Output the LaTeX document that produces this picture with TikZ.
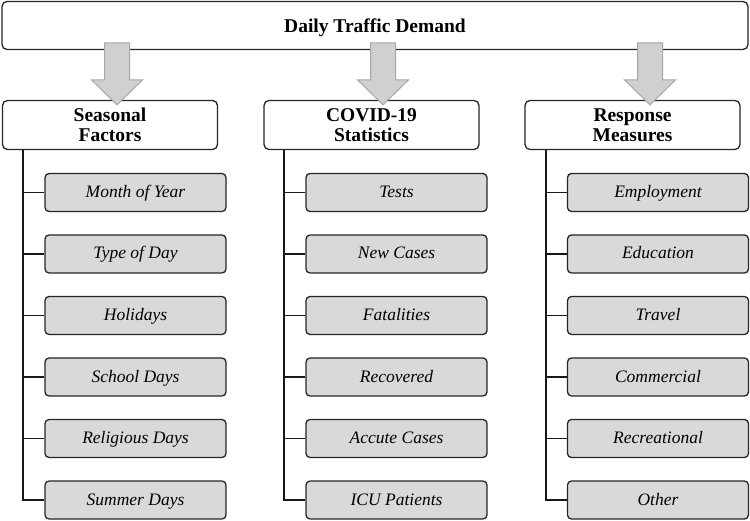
\documentclass[tikz,border=0pt]{standalone}
\usepackage{fontspec}
\setmainfont{Liberation Serif}
\usetikzlibrary{positioning, calc}
\definecolor{cItem}{HTML}{D9D9D9}
\definecolor{cArr}{HTML}{D0D0D0}
\definecolor{cArrLine}{HTML}{A6A6A6}

\begin{document}
\begin{tikzpicture}[
  x=1pt, y=-1pt,
  box/.style={rounded corners=5pt, draw=black!85, line width=1.3pt, fill=white, inner sep=0pt},
  top/.style={box, minimum width=746pt, minimum height=48pt, text height=15pt, text depth=0pt, font=\fontsize{19.5}{22}\selectfont\bfseries},
  cat/.style={box, align=center, minimum width=215pt, minimum height=49pt, font=\fontsize{19.5}{19.5}\selectfont\bfseries},
  item/.style={box, rounded corners=4pt, fill=cItem, minimum width=181pt, minimum height=38pt, text height=10pt, text depth=0pt, font=\fontsize{17.5}{20}\selectfont\itshape},
  trunk/.style={line width=1.5pt, draw=black!90},
  fat/.style={fill=cArr, draw=cArrLine, line width=1pt, line join=miter},
]
\useasboundingbox (0,0) rectangle (750,521);

% header
\node[top] (dtd) at (375,25.5) {Daily Traffic Demand};

% the three groups
\node[cat] (sf) at (110,125) {Seasonal\\Factors};
\node[cat] (cs) at (371.5,125) {COVID-19\\Statistics};
\node[cat] (rm) at (632.5,125) {Response\\Measures};

% column 1 seasonal factors
\node[item] (sf1) at (135.5,192.5) {Month of Year};
\node[item, below=22.2pt of sf1] (sf2) {Type of Day};
\node[item, below=22.2pt of sf2] (sf3) {Holidays};
\node[item, below=22.2pt of sf3] (sf4) {School Days};
\node[item, below=22.2pt of sf4] (sf5) {Religious Days};
\node[item, below=22.2pt of sf5] (sf6) {Summer Days};

% column 2 covid statistics
\node[item] (cs1) at (396.5,192.5) {Tests};
\node[item, below=22.2pt of cs1] (cs2) {New Cases};
\node[item, below=22.2pt of cs2] (cs3) {Fatalities};
\node[item, below=22.2pt of cs3] (cs4) {Recovered};
\node[item, below=22.2pt of cs4] (cs5) {Accute Cases};
\node[item, below=22.2pt of cs5] (cs6) {ICU Patients};

% column 3 response measures
\node[item] (rm1) at (658,192.5) {Employment};
\node[item, below=22.2pt of rm1] (rm2) {Education};
\node[item, below=22.2pt of rm2] (rm3) {Travel};
\node[item, below=22.2pt of rm3] (rm4) {Commercial};
\node[item, below=22.2pt of rm4] (rm5) {Recreational};
\node[item, below=22.2pt of rm5] (rm6) {Other};

% trunks and branches
\coordinate (sft) at (23,0);
\coordinate (cst) at (284,0);
\coordinate (rmt) at (546,0);
\draw[trunk] (sf.south -| sft) |- (sf6.west);
\draw[trunk] (cs.south -| cst) |- (cs6.west);
\draw[trunk] (rm.south -| rmt) |- (rm6.west);
\draw[trunk] (sf1.west) -- (sf1.west -| sft) (sf2.west) -- (sf2.west -| sft)
  (sf3.west) -- (sf3.west -| sft) (sf4.west) -- (sf4.west -| sft) (sf5.west) -- (sf5.west -| sft);
\draw[trunk] (cs1.west) -- (cs1.west -| cst) (cs2.west) -- (cs2.west -| cst)
  (cs3.west) -- (cs3.west -| cst) (cs4.west) -- (cs4.west -| cst) (cs5.west) -- (cs5.west -| cst);
\draw[trunk] (rm1.west) -- (rm1.west -| rmt) (rm2.west) -- (rm2.west -| rmt)
  (rm3.west) -- (rm3.west -| rmt) (rm4.west) -- (rm4.west -| rmt) (rm5.west) -- (rm5.west -| rmt);

% fat arrows from the header into each group
\coordinate (tip1) at ($(sf.north)+(7,5)$);
\coordinate (tip2) at ($(cs.north)+(11.5,5)$);
\coordinate (tip3) at ($(rm.north)+(17.5,5)$);
\draw[fat] (tip1) -- ++(-25.5,-25) -- ++(13,0) -- ++(0,-37) -- ++(25,0) -- ++(0,37) -- ++(13,0) -- cycle;
\draw[fat] (tip2) -- ++(-25.5,-25) -- ++(13,0) -- ++(0,-37) -- ++(25,0) -- ++(0,37) -- ++(13,0) -- cycle;
\draw[fat] (tip3) -- ++(-25.5,-25) -- ++(13,0) -- ++(0,-37) -- ++(25,0) -- ++(0,37) -- ++(13,0) -- cycle;

\end{tikzpicture}
\end{document}
